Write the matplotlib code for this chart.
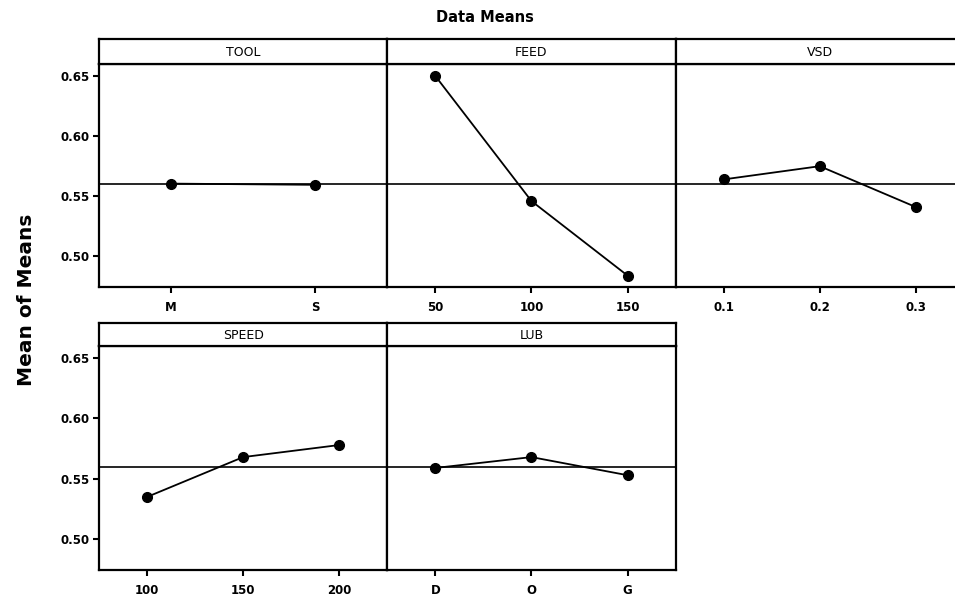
import matplotlib
matplotlib.use("Agg")
import matplotlib.pyplot as plt

# ---- data ----
factors = ["TOOL", "FEED", "VSD", "SPEED", "LUB"]
tool_levels = ["M", "S"]
tool_means = [0.5605, 0.5595]
feed_levels = ["50", "100", "150"]
feed_means = [0.650, 0.546, 0.484]
vsd_levels = ["0.1", "0.2", "0.3"]
vsd_means = [0.564, 0.575, 0.541]
speed_levels = ["100", "150", "200"]
speed_means = [0.535, 0.568, 0.578]
lub_levels = ["D", "O", "G"]
lub_means = [0.559, 0.568, 0.553]
grand_mean = 0.560
yticks = [0.50, 0.55, 0.60, 0.65]

levels = [tool_levels, feed_levels, vsd_levels, speed_levels, lub_levels]
means = [tool_means, feed_means, vsd_means, speed_means, lub_means]

W, H = 955, 601
fig = plt.figure(figsize=(W / 100, H / 100), dpi=100)
fig.patch.set_facecolor("white")

# panel pixel geometry: (plot_top, plot_bottom, header_top)
rows = [(64, 287, 39), (346, 570, 323)]
lefts = [99, 387.3, 675.6]
pw = 288.3
layout = [(0, 0), (0, 1), (0, 2), (1, 0), (1, 1)]

LW = 1.6
for i, (r, c) in enumerate(layout):
    top, bot, htop = rows[r]
    left = lefts[c]
    ax = fig.add_axes([left / W, (H - bot) / H, pw / W, (bot - top) / H])
    n = len(levels[i])
    x = list(range(1, n + 1))
    ax.axhline(grand_mean, color="black", lw=1.2, zorder=1)
    ax.plot(x, means[i], color="black", lw=1.3, marker="o", ms=7, zorder=3)
    ax.set_xlim(0.5, n + 0.5)
    ax.set_ylim(0.4745, 0.660)
    ax.set_xticks(x)
    ax.set_xticklabels(levels[i], fontsize=8.5, fontweight="bold")
    ax.set_yticks(yticks)
    if c == 0:
        ax.set_yticklabels([f"{v:.2f}" for v in yticks], fontsize=8.5, fontweight="bold")
        ax.tick_params(axis="y", length=4, width=1.5, pad=3)
    else:
        ax.tick_params(axis="y", length=0, labelleft=False)
    ax.tick_params(axis="x", length=4, width=1.5, pad=6)
    for s in ax.spines.values():
        s.set_linewidth(LW)
    # header strip
    hax = fig.add_axes([left / W, (H - top) / H, pw / W, (top - htop) / H])
    hax.set_xticks([])
    hax.set_yticks([])
    for s in hax.spines.values():
        s.set_linewidth(LW)
    hax.text(0.5, 0.45, factors[i], ha="center", va="center", fontsize=9,
             transform=hax.transAxes)

fig.text(485 / W, 1 - 18 / H, "Data Means", ha="center", va="center",
         fontsize=10.5, fontweight="bold")
fig.text(26 / W, 1 - 300 / H, "Mean of Means", ha="center", va="center",
         rotation=90, fontsize=14.5, fontweight="bold")

fig.savefig("out.png", dpi=100, facecolor="white")
